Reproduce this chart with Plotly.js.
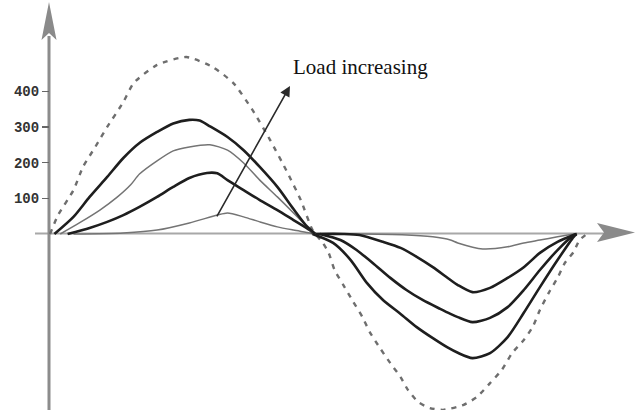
<!DOCTYPE html>
<html>
<head>
<meta charset="utf-8">
<script src="https://cdn.plot.ly/plotly-3.0.1.min.js"></script>
<style>html,body{margin:0;padding:0;background:#fff;}#chart{width:636px;height:410px;}</style>
</head>
<body>
<div id="chart"></div>
<script>
// ---- data (phase angle in degrees, value) ----
const yTickVals = [100, 200, 300, 400];
const yTickText = ["100", "200", "300", "400"];
const annotationText = "Load increasing";

// reference (dashed) wave
const refX = [0, 5.5, 16, 22.5, 31, 39, 50, 57, 73, 93, 111, 125, 138, 150, 162, 171, 179, 186, 190, 194, 200, 206, 213, 218, 225, 232, 239, 244, 251, 259, 268, 282, 291, 300, 308, 315, 323, 329, 334, 340, 346, 351, 357, 361, 366];
const refY = [0, 53, 123, 188, 245, 300, 370, 423, 474, 496, 468, 423, 348, 264, 171, 95, 11, -25, -53, -101, -143, -185, -233, -275, -320, -362, -401, -437, -471, -488, -493, -479, -457, -418, -381, -334, -297, -261, -213, -165, -123, -81, -50, -17, 0];

// positive half-cycle curves
const pos1X = [3, 16, 27, 39, 50, 61, 73, 84, 95, 102, 109, 121, 132, 143, 155, 166, 175, 181];
const pos1Y = [0, 48, 104, 160, 213, 255, 286, 310, 320, 318, 302, 272, 235, 188, 132, 70, 22, 0];
const pos2X = [7, 20, 34, 46, 55, 61, 73, 84, 95, 109, 121, 132, 143, 155, 166, 177, 180];
const pos2Y = [0, 31, 67, 104, 138, 168, 205, 233, 244, 250, 235, 199, 151, 104, 59, 13, 0];
const pos3X = [12, 27, 39, 50, 61, 73, 84, 95, 107, 114, 121, 132, 143, 155, 166, 177, 180];
const pos3Y = [0, 17, 34, 53, 76, 104, 132, 157, 171, 170, 151, 123, 95, 67, 39, 11, 0];
const pos4X = [16, 50, 73, 95, 114, 121, 132, 143, 155, 166, 177, 180];
const pos4Y = [0, 3, 11, 31, 53, 59, 48, 34, 20, 11, 3, 0];

// negative half-cycle curves
const neg1X = [179, 193, 205, 216, 227, 239, 250, 261, 271, 278, 288, 300, 312, 323, 334, 346, 357, 359];
const neg1Y = [0, -25, -73, -137, -185, -224, -261, -292, -318, -333, -348, -334, -289, -221, -149, -73, -8, 0];
const neg2X = [184, 198, 209, 220, 232, 243, 254, 266, 273, 278, 288, 300, 312, 323, 334, 346, 357, 359];
const neg2Y = [0, -17, -45, -81, -123, -157, -185, -210, -224, -233, -247, -235, -205, -157, -101, -45, -3, 0];
const neg3X = [181, 200, 211, 227, 239, 250, 261, 273, 278, 288, 300, 312, 323, 334, 346, 357, 359];
const neg3Y = [0, 0, -3, -22, -39, -64, -93, -129, -143, -163, -151, -123, -93, -53, -22, -3, 0];
const neg4X = [181, 215, 240, 261, 273, 278, 295, 312, 323, 334, 346, 357];
const neg4Y = [0, 0, -2, -8, -17, -25, -42, -36, -25, -17, -8, 0];

// arrow of the annotation (data coords)
const arrowHead = [163.6, 415];
const arrowTail = [113.2, 45];

// ---- styling ----
const W = 636, H = 410;
const DARK = {color: "#1e1e1e", width: 2.6, shape: "spline", smoothing: 0.7};
const THIN = {color: "#747474", width: 1.5, shape: "spline", smoothing: 0.7};

function tr(x, y, line) {
  return {x: x, y: y, type: "scatter", mode: "lines", line: line, hoverinfo: "skip"};
}

const traces = [
  tr(refX, refY, {color: "#6e6e6e", width: 2.4, dash: "5px,6px", shape: "spline", smoothing: 0.6}),
  tr(pos4X, pos4Y, THIN),
  tr(pos3X, pos3Y, DARK),
  tr(pos2X, pos2Y, THIN),
  tr(pos1X, pos1Y, DARK),
  tr(neg4X, neg4Y, THIN),
  tr(neg3X, neg3Y, DARK),
  tr(neg2X, neg2Y, DARK),
  tr(neg1X, neg1Y, DARK)
];

// pixel -> paper helpers for axis decorations
const px = v => v / W;
const py = v => 1 - v / H;

const shapes = [
  // x axis shaft
  {type: "line", xref: "paper", yref: "paper", x0: px(35), x1: px(604), y0: py(233.5), y1: py(233.5),
   line: {color: "#a8a8a8", width: 2}, layer: "below"},
  // y axis shaft
  {type: "line", xref: "paper", yref: "paper", x0: px(49), x1: px(49), y0: py(36), y1: py(410),
   line: {color: "#8c8c8c", width: 3}, layer: "below"},
  // x arrowhead
  {type: "path", xref: "paper", yref: "paper",
   path: `M ${px(635)} ${py(232.5)} L ${px(597)} ${py(223)} L ${px(604)} ${py(232.5)} L ${px(597)} ${py(242)} Z`,
   fillcolor: "#8a8a8a", line: {width: 0}},
  // y arrowhead
  {type: "path", xref: "paper", yref: "paper",
   path: `M ${px(49)} ${py(2)} L ${px(56.5)} ${py(40)} L ${px(49)} ${py(33)} L ${px(41.5)} ${py(40)} Z`,
   fillcolor: "#8a8a8a", line: {width: 0}}
];

const layout = {
  width: W, height: H,
  margin: {l: 0, r: 0, t: 0, b: 0, pad: 0},
  paper_bgcolor: "#ffffff", plot_bgcolor: "#ffffff",
  showlegend: false,
  xaxis: {range: [-34.09, 399.5], visible: false, fixedrange: true},
  yaxis: {
    range: [-493.4, 656.0], anchor: "free", position: 49 / W,
    showgrid: false, zeroline: false, showline: false,
    tickmode: "array", tickvals: yTickVals, ticktext: yTickText,
    ticks: "outside", ticklen: 7, tickwidth: 1.5, tickcolor: "#666",
    tickfont: {family: "Liberation Mono, monospace", size: 14, color: "#333", weight: "bold"},
    fixedrange: true
  },
  shapes: shapes,
  annotations: [
    {x: arrowHead[0], y: arrowHead[1], ax: arrowTail[0], ay: arrowTail[1], xref: "x", yref: "y", axref: "x", ayref: "y",
     text: "", showarrow: true, arrowhead: 2, arrowsize: 1.3, arrowwidth: 1.6, arrowcolor: "#2a2a2a"},
    {x: 164.2, y: 468, xref: "x", yref: "y", xanchor: "left", yanchor: "middle", showarrow: false,
     text: annotationText, font: {family: "Liberation Serif, Times New Roman, serif", size: 21, color: "#111"}}
  ]
};

Plotly.newPlot("chart", traces, layout, {displayModeBar: false, staticPlot: true});
</script>
</body>
</html>
